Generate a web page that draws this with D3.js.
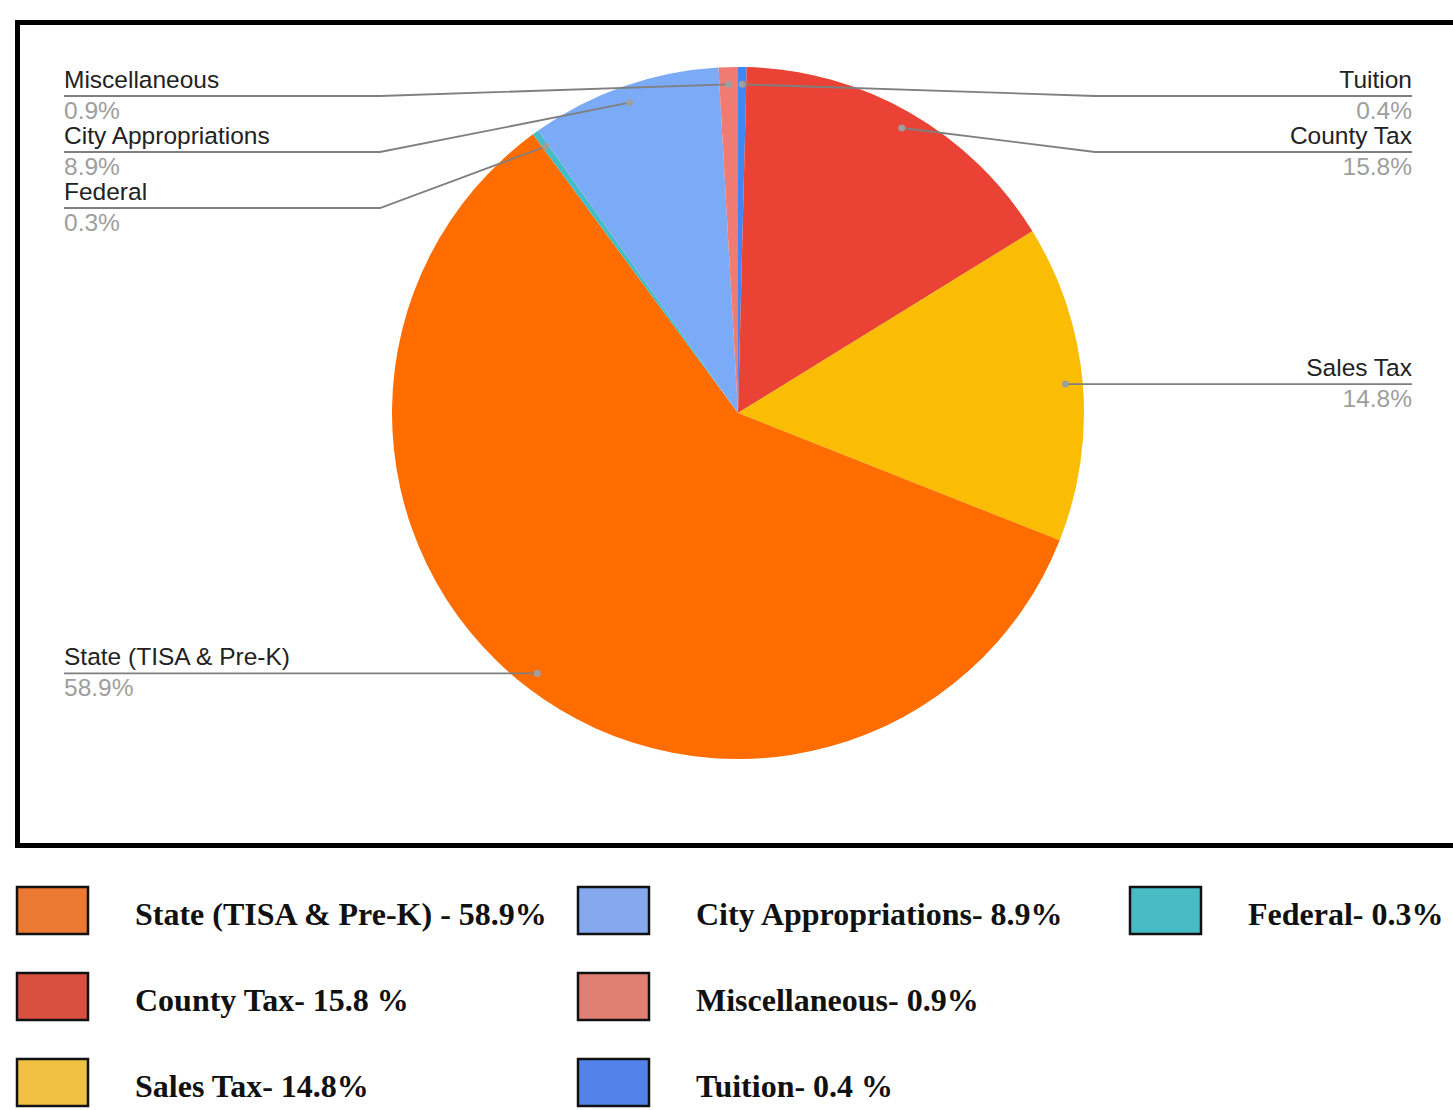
<!DOCTYPE html>
<html>
<head>
<meta charset="utf-8">
<script src="https://cdn.jsdelivr.net/npm/d3@7"></script>
<style>
  body { margin: 0; background: #fff; }
  svg { display: block; }
</style>
</head>
<body>
<div id="chart"></div>
<script>
// slices, clockwise from 12 o'clock
var names = ["Tuition", "County Tax", "Sales Tax", "State (TISA & Pre-K)", "Federal", "City Appropriations", "Miscellaneous"];
var values = [0.4, 15.8, 14.8, 58.9, 0.3, 8.9, 0.9];
var pieColors = ["#4285f4", "#ea4335", "#fbbc04", "#ff6d01", "#46bdc6", "#7baaf7", "#f07b72"];

// legend (as typed in the source image)
var legendText = [
  "State (TISA & Pre-K) - 58.9%", "County Tax- 15.8 %", "Sales Tax- 14.8%",
  "City Appropriations- 8.9%", "Miscellaneous- 0.9%", "Tuition- 0.4 %",
  "Federal- 0.3%"
];
var legendColors = ["#ec7932", "#d95040", "#f0c042", "#86a8ef", "#e07f74", "#5183ea", "#47bcc5"];

var W = 1453, H = 1110;
var cx = 738, cy = 413, R = 346;

var svg = d3.select('#chart').append('svg')
    .attr('width', W)
    .attr('height', H)

// frame
svg.append('rect')
    .attr('x', 17.5).attr('y', 22.5)
    .attr('width', 1500).attr('height', 823)
    .attr('fill', 'none')
    .attr('stroke', '#000')
    .attr('stroke-width', 5)

var data = names.map(function(n, i) { return { name: n, value: values[i], color: pieColors[i] } })

var pie = d3.pie().sort(null).value(function(d) { return d.value })
var arcs = pie(data)
var arc = d3.arc().innerRadius(0).outerRadius(R)

var pieG = svg.append('g').attr('transform', 'translate(' + cx + ',' + cy + ')')
pieG.selectAll('path')
    .data(arcs)
    .enter()
    .append('path')
    .attr('d', arc)
    .attr('fill', function(d) { return d.data.color })

// label anchor points at 95% radius
arcs.forEach(function(d) {
    var a = (d.startAngle + d.endAngle) / 2
    d.px = cx + Math.sin(a) * R * 0.95
    d.py = cy - Math.cos(a) * R * 0.95
    d.side = d.px < cx ? 'left' : 'right'
})

// stack labels per side
var minY = 96, gap = 56
;['left', 'right'].forEach(function(side) {
    var list = arcs.filter(function(d) { return d.side == side })
        .sort(function(a, b) { return a.py - b.py })
    var prev = -Infinity
    list.forEach(function(d) {
        d.ly = Math.max(d.py, minY, prev + gap)
        prev = d.ly
    })
})

var labelG = svg.append('g')
var textLeft = 64, textRight = 1412, elbowLeft = 380, elbowRight = 1095

arcs.forEach(function(d) {
    var left = d.side == 'left'
    var edge = left ? textLeft : textRight
    var elbow = left ? elbowLeft : elbowRight
    var line = d3.line()
    var pts = d.ly == d.py ? [[edge, d.ly], [d.px, d.py]] : [[edge, d.ly], [elbow, d.ly], [d.px, d.py]]

    labelG.append('path')
        .attr('d', line(pts))
        .attr('fill', 'none')
        .attr('stroke', '#7f7f7f')
        .attr('stroke-width', 1.8)

    labelG.append('circle')
        .attr('cx', d.px).attr('cy', d.py)
        .attr('r', 3.5)
        .attr('fill', '#9e9e9e')

    labelG.append('text')
        .attr('x', edge).attr('y', d.ly - 8)
        .attr('text-anchor', left ? 'start' : 'end')
        .style('font-family', 'Liberation Sans, Arial, sans-serif')
        .style('font-size', '24.5px')
        .style('fill', '#222')
        .text(d.data.name)

    labelG.append('text')
        .attr('x', edge).attr('y', d.ly + 23)
        .attr('text-anchor', left ? 'start' : 'end')
        .style('font-family', 'Liberation Sans, Arial, sans-serif')
        .style('font-size', '24.5px')
        .style('fill', '#9e9e9e')
        .text(d.data.value + '%')
})

// legend: 3 rows per column
var rowY = d3.scalePoint().domain([0, 1, 2]).range([887, 1059])
var legendG = svg.append('g')
legendText.forEach(function(t, i) {
    var c = Math.floor(i / 3), r = i % 3
    var x = [16, 577, 1129][c]
    var y = rowY(r)
    legendG.append('rect')
        .attr('x', x + 1).attr('y', y)
        .attr('width', 71).attr('height', 47)
        .attr('fill', legendColors[i])
        .attr('stroke', '#111')
        .attr('stroke-width', 2.5)
    legendG.append('text')
        .attr('x', x + 119).attr('y', y + 38)
        .style('font-family', 'Liberation Serif, Times New Roman, serif')
        .style('font-weight', 'bold')
        .style('font-size', '32px')
        .style('fill', '#111')
        .text(t)
})
</script>
</body>
</html>
